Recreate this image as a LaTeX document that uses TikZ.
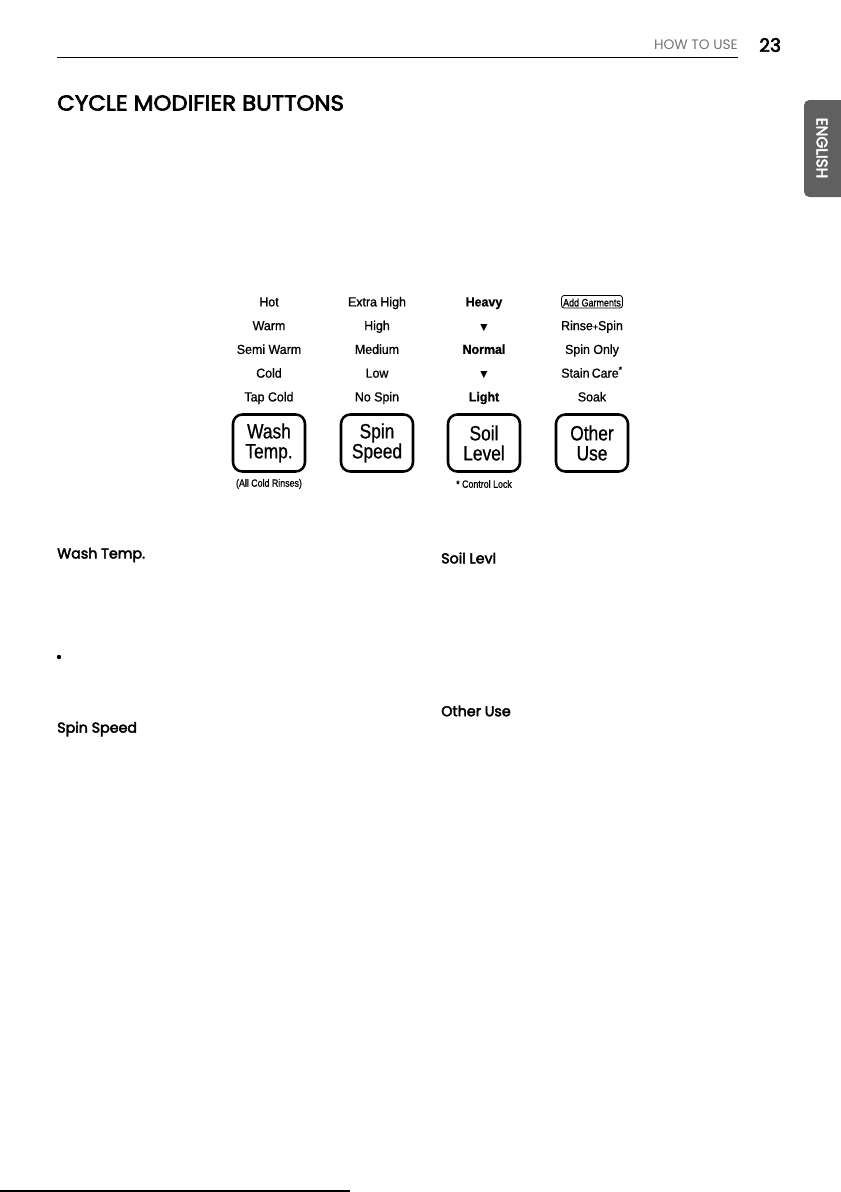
\documentclass[tikz,border=0pt]{standalone}
\usepackage{fontspec}
\setmainfont{Liberation Sans}
\newfontfamily\headfont{Poppins}
\newfontfamily\headbold{Poppins}[FakeBold=3]
\newfontfamily\titlefont{Poppins}[FakeStretch=1.06, FakeBold=3]
\newfontfamily\panelfont{Liberation Sans}[FakeStretch=0.84, FakeBold=0.8]
\newfontfamily\optfont{Liberation Sans}[FakeStretch=0.95, FakeBold=0.8]
\newfontfamily\symfont{DejaVu Sans}
\usetikzlibrary{positioning}
\definecolor{tabgray}{RGB}{96,96,96}

\begin{document}
\begin{tikzpicture}[x=0.75pt, y=-0.75pt,
    button/.style={draw, line width=1.9pt, rounded corners=7pt, minimum width=54pt, minimum height=42.75pt,
      align=center, inner sep=0pt, font=\panelfont\fontsize{15.5}{15}\selectfont},
    option/.style={inner sep=0pt, text height=7pt, text depth=0pt, font=\optfont\fontsize{9.8}{9.8}\selectfont},
    caption/.style={inner sep=0pt, font=\panelfont\fontsize{7.9}{7.9}\selectfont},
    heading/.style={anchor=west, inner sep=0pt, font=\headbold\fontsize{10.7}{11}\selectfont}]
    \useasboundingbox (0,0) rectangle (840,1192);

    % Page header
    \draw[line width=0.75pt] (57,57) coordinate (rulel) -- (738,57) coordinate (ruler);
    \node[anchor=east, inner sep=0pt, gray!90!black, font=\headfont\fontsize{10.3}{10}\selectfont] (section) at (738,45) {HOW TO USE};
    \node[anchor=west, inner sep=0pt, font=\headbold\fontsize{14}{14}\selectfont] (pageno) at (759,45) {23};

    % Language tab
    \fill[tabgray, rounded corners=4pt] (804,100) rectangle (846,197);
    \node[white, rotate=-90, inner sep=0pt, font=\headbold\fontsize{11.5}{11.5}\selectfont] (lang) at (822,148) {ENGLISH};

    % Title
    \node[anchor=west, inner sep=0pt, font=\titlefont\fontsize{16.2}{16.2}\selectfont] (title) at (57,103) {CYCLE MODIFIER BUTTONS};

    % Buttons
    \node[button] (wash)  at (269,443) {Wash\\Temp.};
    \node[button] (spin)  at (377,443) {Spin\\Speed};
    \node[button] (soil)  at (484,443) {Soil\\Level};
    \node[button] (other) at (592,443) {Other\\Use};

    % Options above each button
    \foreach \t [count=\i] in {Hot, Warm, Semi Warm, Cold, Tap Cold}
      \node[option] (wt\i) at (269,278+23.75*\i) {\t};
    \foreach \t [count=\i] in {Extra High, High, Medium, Low, No Spin}
      \node[option] (sp\i) at (377,278+23.75*\i) {\t};
    \foreach \t [count=\i] in {\bfseries Heavy, {\symfont\fontsize{7}{7}\selectfont ▼}, \bfseries Normal, {\symfont\fontsize{7}{7}\selectfont ▼}, \bfseries Light}
      \node[option] (sl\i) at (484,278+23.75*\i) {\t};
    \node[option, draw, rounded corners=2pt, inner sep=1.2pt, line width=0.6pt,
      font=\panelfont\fontsize{8}{8}\selectfont] (ou1) at (592,301.75) {Add Garments};
    \foreach \t [count=\i from 2] in {Rinse{\fontsize{7}{7}\selectfont+}Spin, Spin Only, Stain\,Care\textsuperscript{*}, Soak}
      \node[option] (ou\i) at (592,278+23.75*\i) {\t};

    % Captions below
    \node[caption] (rinses) at (269,484) {(All Cold Rinses)};
    \node[caption] (lock) at (484,484) {* Control Lock};

    % Section headings
    \node[heading] (hwash)  at (57,555) {Wash Temp.};
    \fill (59,657) circle (2.2);
    \node[heading] (hspin)  at (57,729) {Spin Speed};
    \node[heading] (hsoil)  at (441,558) {Soil Levl};
    \node[heading] (hother) at (441,711) {Other Use};

    % Cut edge at the bottom
    \draw[line width=1.5pt] (0,1191) -- (350,1191);
\end{tikzpicture}
\end{document}
